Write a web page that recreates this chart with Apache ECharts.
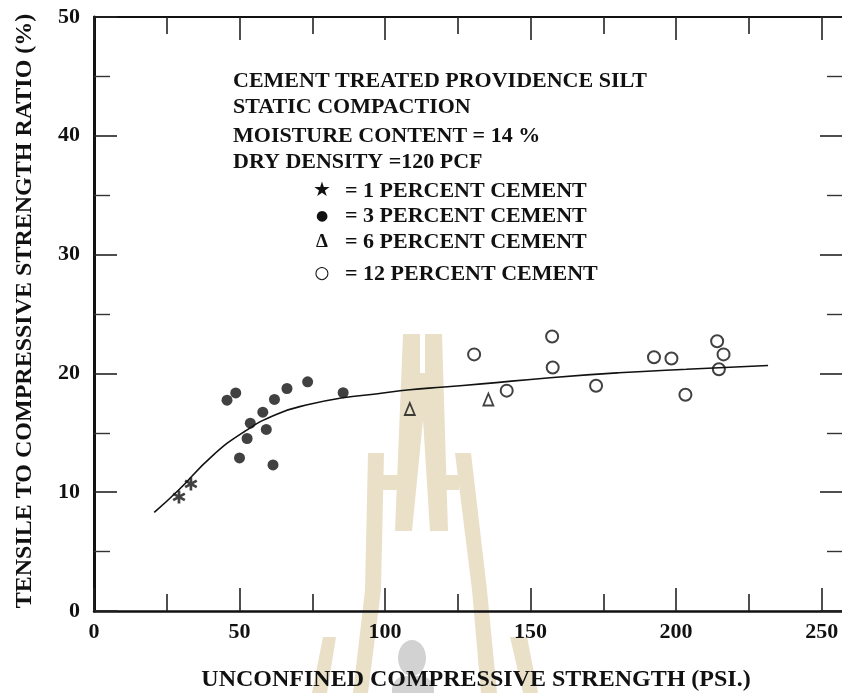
<!DOCTYPE html>
<html>
<head>
<meta charset="utf-8">
<script src="https://cdn.jsdelivr.net/npm/echarts@6/dist/echarts.min.js"></script>
<style>
  html, body { margin: 0; padding: 0; background: #fff; }
  #chart { width: 842px; height: 693px; }
</style>
</head>
<body>
<div id="chart"></div>
<script>
// Cement treated Providence silt: tensile / compressive strength ratio vs unconfined compressive strength
const onePercent = [[29.2, 9.6], [33.3, 10.7]];
const threePercent = [
  [45.7, 17.75], [48.7, 18.36], [50.0, 12.88], [52.6, 14.52], [53.7, 15.81], [58.0, 16.74],
  [59.2, 15.28], [62.0, 17.81], [61.5, 12.3], [66.3, 18.73], [73.4, 19.29], [85.6, 18.38]
];
const sixPercent = [[108.5, 17.0], [135.5, 17.8]];
const twelvePercent = [
  [130.6, 21.6], [141.8, 18.55], [157.4, 23.1], [157.6, 20.5], [172.5, 18.96], [192.4, 21.36],
  [198.4, 21.25], [203.2, 18.2], [214.1, 22.7], [216.3, 21.6], [214.7, 20.35]
];
const trendCurve = [
  [20.7, 8.3], [28.9, 10.14], [40.4, 13.0], [51.5, 15.07], [62.8, 16.57], [74.1, 17.4],
  [85.5, 17.95], [96.8, 18.27], [108.5, 18.63], [120.3, 18.85], [133.2, 19.12],
  [156.7, 19.64], [180.2, 20.05], [203.5, 20.35], [231.6, 20.66]
];
const xMajorTicks = [0, 50, 100, 150, 200, 250];
const xMinorTicks = [25, 75, 125, 175, 225];
const yTickLabels = ['0', '10', '20', '30', '40', '50'];
const noteLines = [
  'CEMENT TREATED PROVIDENCE SILT',
  'STATIC COMPACTION',
  'MOISTURE CONTENT = 14 %',
  'DRY DENSITY =120 PCF'
];
const keySymbols = ['\u2605', '\u25CF', '\u0394', '\u25CB'];
const keyTexts = ['= 1 PERCENT CEMENT', '= 3 PERCENT CEMENT', '= 6 PERCENT CEMENT', '= 12 PERCENT CEMENT'];
const xTitle = 'UNCONFINED COMPRESSIVE STRENGTH (PSI.)';
const yTitle = 'TENSILE TO COMPRESSIVE STRENGTH RATIO (%)';

const SERIF = '"Liberation Serif", "Times New Roman", serif';
const INK = '#111';
const ASTERISK = 'path://M-1.2,-6L1.2,-6L1.2,6L-1.2,6Z' +
  'M4.596,-4.039L5.796,-1.961L-4.596,4.039L-5.796,1.961Z' +
  'M-5.796,-1.961L-4.596,-4.039L5.796,1.961L4.596,4.039Z';

const chart = echarts.init(document.getElementById('chart'), null, { renderer: 'canvas' });

const tickFont = { fontFamily: SERIF, fontWeight: 'bold', fontSize: 22, color: INK };
const X_MAX = 257;

function xAxisDef(pos, ticks, tickLen, showLine, withLabels) {
  return {
    type: 'value', position: pos, min: 0, max: X_MAX,
    axisLine: { show: showLine, onZero: false, lineStyle: { color: INK, width: pos === 'bottom' ? 2.5 : 2 } },
    axisTick: { show: true, inside: true, length: tickLen, customValues: ticks, lineStyle: { color: '#222', width: 1.6 } },
    splitLine: { show: false },
    axisLabel: withLabels
      ? Object.assign({ margin: 10, customValues: ticks, formatter: v => String(v) }, tickFont)
      : { show: false }
  };
}

function yAxisDef(pos) {
  const left = pos === 'left';
  return {
    type: 'value', position: pos, min: 0, max: 50, interval: 10,
    axisLine: { show: left, onZero: false, lineStyle: { color: INK, width: 3 } },
    axisTick: { show: true, inside: true, length: left ? 23 : 22, lineStyle: { color: '#222', width: 1.6 } },
    minorTick: { show: true, splitNumber: 2, length: left ? 16 : 15, lineStyle: { color: '#333', width: 1.4 } },
    splitLine: { show: false }, minorSplitLine: { show: false },
    axisLabel: left
      ? Object.assign({ margin: 14, formatter: v => (yTickLabels[v / 10] !== undefined ? yTickLabels[v / 10] : '') }, tickFont)
      : { show: false }
  };
}

// Beige tower emblem and grey figure behind the plot
const TAN = '#eae0c8';
const emblem = [
  { type: 'polygon', shape: { points: [[403, 334], [420, 334], [420, 373], [425, 373], [425, 334], [442, 334], [448, 531], [430, 531], [423, 420], [412, 531], [395, 531]] } },
  { type: 'rect', shape: { x: 380, y: 475, width: 18, height: 15 } },
  { type: 'rect', shape: { x: 445, y: 475, width: 14, height: 15 } },
  { type: 'polygon', shape: { points: [[368, 453], [384, 453], [381, 590], [368, 693], [353, 693], [365, 590]] } },
  { type: 'polygon', shape: { points: [[455, 453], [471, 453], [487, 590], [497, 693], [481, 693], [472, 590]] } },
  { type: 'polygon', shape: { points: [[323, 637], [336, 637], [327, 693], [312, 693]] } },
  { type: 'polygon', shape: { points: [[510, 637], [527, 637], [538, 693], [523, 693]] } }
].map(e => Object.assign(e, { z: -10, silent: true, style: { fill: TAN } }));
emblem.push(
  { type: 'ellipse', shape: { cx: 412, cy: 658, rx: 14, ry: 18 }, z: -9, silent: true, style: { fill: '#d2d2d2' } },
  { type: 'rect', shape: { x: 392, y: 676, width: 42, height: 20, r: [14, 14, 0, 0] }, z: -9, silent: true, style: { fill: '#d2d2d2' } }
);

const noteFont = 'bold 22px ' + SERIF;
const noteY = [81, 107, 136, 162];
const keyY = [191, 216, 242, 274];
const texts = [];
function textEl(x, y, t, font, align, extra) {
  return Object.assign({
    type: 'text', x: x, y: y, z: 20, silent: true,
    style: { text: t, font: font, fill: INK, textAlign: align, textVerticalAlign: 'middle', align: align, verticalAlign: 'middle' }
  }, extra || {});
}
noteLines.forEach((t, i) => texts.push(textEl(233, noteY[i], t, noteFont, 'left')));
const keyFonts = ['20px "DejaVu Sans"', '14px "DejaVu Sans"', 'bold 19px ' + SERIF, '17px "DejaVu Sans"'];
keySymbols.forEach((s, i) => texts.push(textEl(322, keyY[i], s, keyFonts[i], 'center')));
keyTexts.forEach((t, i) => texts.push(textEl(345, keyY[i], t, noteFont, 'left')));
texts.push(textEl(476, 680, xTitle, 'bold 24px ' + SERIF, 'center'));
texts.push(textEl(25, 311, yTitle, 'bold 24px ' + SERIF, 'center', { rotation: Math.PI / 2 }));

chart.setOption({
  animation: false,
  backgroundColor: '#fff',
  grid: { left: 94, top: 17, right: 0, bottom: 82, outerBoundsMode: 'none', containLabel: false },
  xAxis: [
    xAxisDef('bottom', xMajorTicks, 23, true, true),
    xAxisDef('bottom', xMinorTicks, 17, false, false),
    xAxisDef('top', xMajorTicks, 23, true, false),
    xAxisDef('top', xMinorTicks, 17, false, false)
  ],
  yAxis: [yAxisDef('left'), yAxisDef('right')],
  graphic: { elements: emblem.concat(texts) },
  series: [
    {
      name: 'trend', type: 'line', data: trendCurve, smooth: true, showSymbol: false, symbol: 'none',
      lineStyle: { color: INK, width: 1.6 }, z: 3, silent: true
    },
    {
      name: '1 percent cement', type: 'scatter', data: onePercent, symbol: ASTERISK, symbolSize: 13,
      itemStyle: { color: INK }, z: 4
    },
    {
      name: '3 percent cement', type: 'scatter', data: threePercent, symbol: 'circle', symbolSize: 11,
      itemStyle: { color: INK }, z: 4
    },
    {
      name: '6 percent cement', type: 'scatter', data: sixPercent, symbol: 'triangle', symbolSize: [10, 12],
      itemStyle: { color: 'rgba(255,255,255,0)', borderColor: INK, borderWidth: 1.8 }, z: 4
    },
    {
      name: '12 percent cement', type: 'scatter', data: twelvePercent, symbol: 'circle', symbolSize: 12,
      itemStyle: { color: 'rgba(255,255,255,0)', borderColor: INK, borderWidth: 2 }, z: 4
    }
  ]
});
</script>
</body>
</html>
